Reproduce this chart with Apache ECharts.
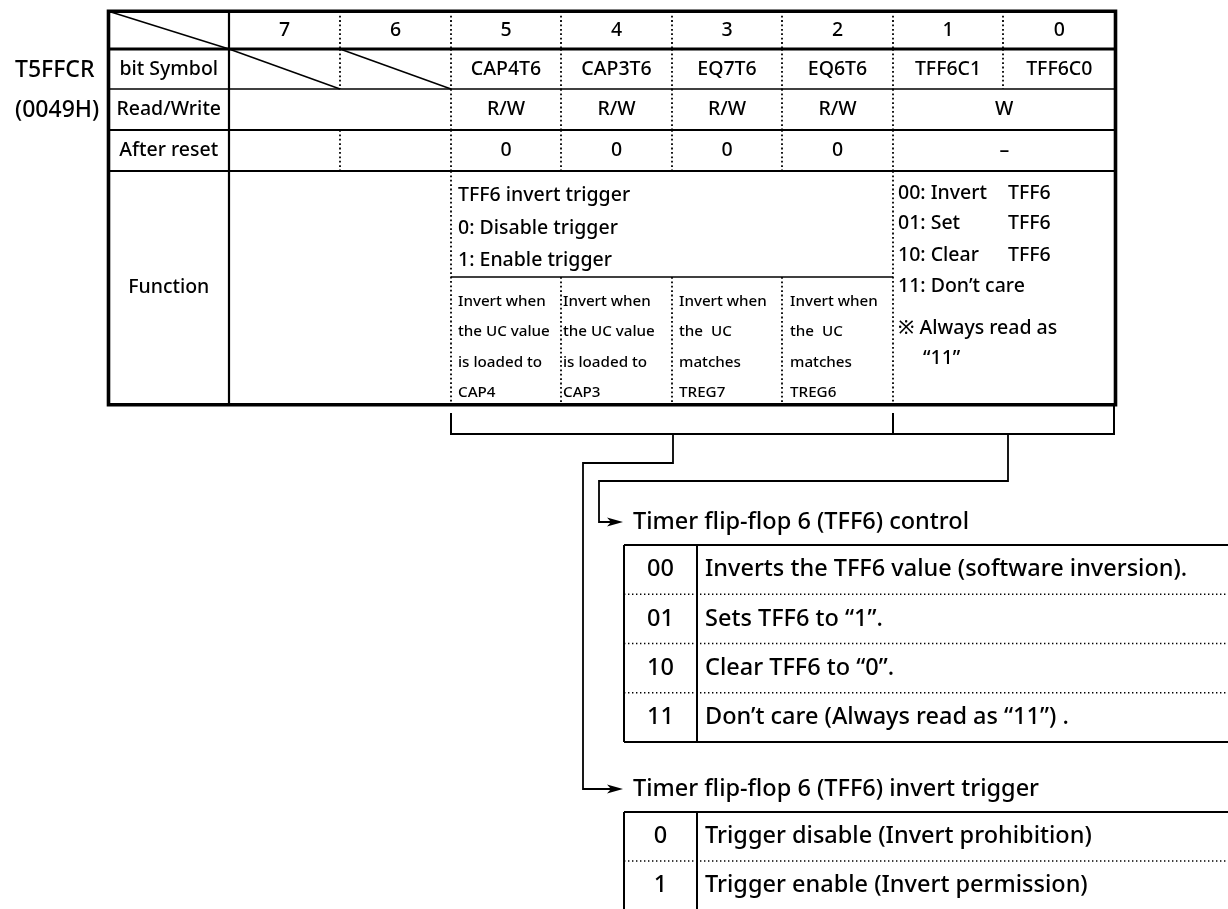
<!DOCTYPE html>
<html><head><meta charset="utf-8">
<script src="https://cdn.jsdelivr.net/npm/echarts@6/dist/echarts.min.js"></script>
<style>html,body{margin:0;padding:0;background:#fff}#c{width:1228px;height:909px}</style>
</head><body><div id="c"></div>
<script>
// ---------------- content (data) ----------------
const registerName = 'T5FFCR';
const registerAddress = '(0049H)';
const bitNumbers = ['7', '6', '5', '4', '3', '2', '1', '0'];
const rowLabels = ['bit Symbol', 'Read/Write', 'After reset', 'Function'];
const bitSymbols = ['', '', 'CAP4T6', 'CAP3T6', 'EQ7T6', 'EQ6T6', 'TFF6C1', 'TFF6C0'];
const reservedBits = [0, 1];
// [text, first bit column, span]
const readWriteCells = [['', 0, 2], ['R/W', 2, 1], ['R/W', 3, 1], ['R/W', 4, 1], ['R/W', 5, 1], ['W', 6, 2]];
const afterResetCells = [['', 0, 1], ['', 1, 1], ['0', 2, 1], ['0', 3, 1], ['0', 4, 1], ['0', 5, 1], ['–', 6, 2]];
const triggerSummary = ['TFF6 invert trigger', '0: Disable trigger', '1: Enable trigger'];
const triggerDetails = [
  ['Invert when', 'the UC value', 'is loaded to', 'CAP4'],
  ['Invert when', 'the UC value', 'is loaded to', 'CAP3'],
  ['Invert when', 'the  UC', 'matches', 'TREG7'],
  ['Invert when', 'the  UC', 'matches', 'TREG6']
];
const controlSummary = [['00: Invert', 'TFF6'], ['01: Set', 'TFF6'], ['10: Clear', 'TFF6'], ['11: Don’t care', ''], ['※ Always read as', ''], ['“11”', '']];
const controlTitle = 'Timer flip-flop 6 (TFF6) control';
const controlCodes = ['00', '01', '10', '11'];
const controlDescriptions = ['Inverts the TFF6 value (software inversion).', 'Sets TFF6 to “1”.', 'Clear TFF6 to “0”.', 'Don’t care (Always read as “11”) .'];
const triggerTitle = 'Timer flip-flop 6 (TFF6) invert trigger';
const triggerCodes = ['0', '1'];
const triggerDescriptions = ['Trigger disable (Invert prohibition)', 'Trigger enable (Invert permission)'];

// ---------------- layout ----------------
const FONT = '"Noto Sans", "Noto Sans CJK JP", sans-serif';
const colEdges = [108.5, 229, 340, 451, 561, 672, 782, 893, 1003, 1115.5];
const rowEdges = [11.3, 49, 89, 130, 171, 404.7];
const funcSplitY = 277;
const summaryY = [195, 228, 260];
const detailY = [302, 332, 363, 393];
const detailOffset = [7, 2, 7, 8];
const controlY = [193, 223.5, 255, 286, 328, 358];
const controlX = [898, 1008, 923];
const SMALL = 15.2, MID = 19.5, BIG = 23.5;
const DOT = [1.8, 2.6];

function bitL(c) { return colEdges[c + 1]; }
function bitR(c) { return colEdges[c + 2]; }
function rowMid(r) { return (rowEdges[r] + rowEdges[r + 1]) / 2; }

function build(api) {
  const P = (x, y) => api.coord([x, y]);
  const els = [];
  function line(x1, y1, x2, y2, w, dash) {
    const a = P(x1, y1), b = P(x2, y2);
    const st = { stroke: '#000', lineWidth: w };
    if (dash) st.lineDash = dash;
    els.push({ type: 'line', shape: { x1: a[0], y1: a[1], x2: b[0], y2: b[1] }, style: st });
  }
  function poly(pts, w) {
    els.push({ type: 'polyline', shape: { points: pts.map(p => P(p[0], p[1])) }, style: { stroke: '#000', lineWidth: w, fill: null } });
  }
  function arrow(x, y) {
    const pts = [[x, y], [x - 16, y - 4.5], [x - 12, y], [x - 16, y + 4.5]].map(p => P(p[0], p[1]));
    els.push({ type: 'polygon', shape: { points: pts }, style: { fill: '#000' } });
  }
  function text(x, y, t, size, align) {
    if (!t) return;
    const a = P(x, y);
    els.push({ type: 'text', x: a[0], y: a[1], style: { text: t, fill: '#000', fontSize: size, fontWeight: 500, fontFamily: FONT, align: align || 'center', verticalAlign: 'middle' } });
  }
  const L = colEdges[0], R = colEdges[9], T = rowEdges[0], B = rowEdges[5];

  // ----- register table -----
  line(L, rowEdges[1], R, rowEdges[1], 3.2);
  line(L, rowEdges[2], R, rowEdges[2], 1.5);
  line(L, rowEdges[3], R, rowEdges[3], 2.2);
  line(L, rowEdges[4], R, rowEdges[4], 1.8);
  line(colEdges[1], T, colEdges[1], B, 2.2);
  line(L, T, colEdges[1], rowEdges[1], 1.5);
  bitNumbers.forEach((b, c) => {
    text((bitL(c) + bitR(c)) / 2, rowMid(0), b, MID);
    if (c > 0) line(bitL(c), rowEdges[0], bitL(c), rowEdges[1], 1.8, DOT);
  });
  bitSymbols.forEach((s, c) => {
    text((bitL(c) + bitR(c)) / 2, rowMid(1), s, MID);
    if (c > 0) line(bitL(c), rowEdges[1], bitL(c), rowEdges[2], 1.8, DOT);
    if (reservedBits.indexOf(c) >= 0) line(bitL(c), rowEdges[1], bitR(c), rowEdges[2], 1.5);
  });
  [[readWriteCells, 2], [afterResetCells, 3]].forEach(([cells, r]) => {
    cells.forEach(([t, c, span], i) => {
      text((bitL(c) + bitR(c + span - 1)) / 2, rowMid(r), t, MID);
      if (i > 0) line(bitL(c), rowEdges[r], bitL(c), rowEdges[r + 1], 1.8, DOT);
    });
  });
  line(bitL(2), rowEdges[4], bitL(2), B, 1.8, DOT);
  line(bitL(6), rowEdges[4], bitL(6), B, 1.8, DOT);
  line(bitL(2), funcSplitY, bitL(6), funcSplitY, 1.5);
  triggerSummary.forEach((t, i) => text(bitL(2) + 7, summaryY[i], t, MID, 'left'));
  triggerDetails.forEach((lines, k) => {
    const c = 2 + k;
    if (k > 0) line(bitL(c), funcSplitY, bitL(c), B, 1.8, DOT);
    lines.forEach((t, i) => text(bitL(c) + detailOffset[k], detailY[i], t, SMALL, 'left'));
  });
  controlSummary.forEach(([a, b], i) => {
    text(i === controlSummary.length - 1 ? controlX[2] : controlX[0], controlY[i], a, MID, 'left');
    text(controlX[1], controlY[i], b, MID, 'left');
  });
  rowLabels.forEach((t, i) => text((L + colEdges[1]) / 2, i === 3 ? 287 : rowMid(i + 1), t, MID));
  text(15, 70, registerName, 23, 'left');
  text(15, 110, registerAddress, 23, 'left');
  const o = [P(L, T), P(R, T), P(R, B), P(L, B)];
  els.push({ type: 'polygon', shape: { points: o }, style: { stroke: '#000', lineWidth: 3.6, fill: null } });

  // ----- brackets and connectors -----
  const bY = 434, bTop = 413;
  poly([[bitL(2), bTop], [bitL(2), bY], [bitL(6), bY]], 2);
  poly([[bitL(6), bTop], [bitL(6), bY], [R - 1.5, bY], [R - 1.5, B]], 2);
  const ctlY = 522, trgY = 789, arrowTip = 623;
  poly([[673, bY], [673, 463], [583, 463], [583, trgY], [arrowTip - 11, trgY]], 1.8);
  arrow(arrowTip, trgY);
  poly([[1008, bY], [1008, 481], [599, 481], [599, ctlY], [arrowTip - 11, ctlY]], 1.8);
  arrow(arrowTip, ctlY);
  text(633, ctlY, controlTitle, BIG, 'left');
  text(633, trgY, triggerTitle, BIG, 'left');

  // ----- value tables -----
  function valueTable(top, codes, descs, rowH) {
    const tl = 624, sep = 697, tr = 1240;
    const bottom = top + rowH * codes.length;
    line(tl, top, tr, top, 2);
    line(tl, bottom, tr, bottom, 2);
    line(tl, top, tl, bottom, 2);
    line(sep, top, sep, bottom, 2);
    codes.forEach((c, i) => {
      const y0 = top + rowH * i;
      if (i > 0) line(tl, y0, tr, y0, 1.4, [1.4, 2.6]);
      text((tl + sep) / 2, y0 + rowH / 2, c, BIG);
      text(705, y0 + rowH / 2, descs[i], BIG, 'left');
    });
  }
  valueTable(545, controlCodes, controlDescriptions, 49.25);
  valueTable(812, triggerCodes, triggerDescriptions, 49);
  return els;
}

const chart = echarts.init(document.getElementById('c'), null, { renderer: 'canvas' });
chart.setOption({
  animation: false,
  backgroundColor: '#fff',
  grid: { left: 0, right: 0, top: 0, bottom: 0 },
  xAxis: { type: 'value', min: 0, max: 1228, show: false },
  yAxis: { type: 'value', min: 0, max: 909, inverse: true, show: false },
  series: [{
    type: 'custom',
    coordinateSystem: 'cartesian2d',
    clip: false,
    data: [[0, 0]],
    renderItem: (params, api) => ({ type: 'group', children: build(api) })
  }]
});
</script>
</body></html>
